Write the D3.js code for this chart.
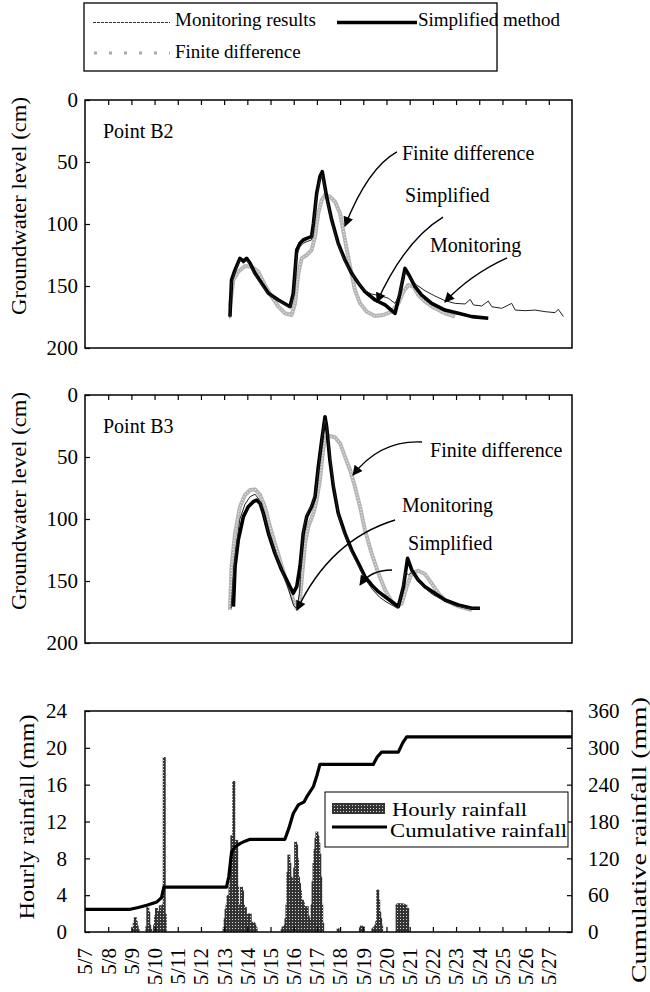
<!DOCTYPE html>
<html>
<head>
<meta charset="utf-8">
<script src="https://cdn.jsdelivr.net/npm/d3@7"></script>
<style>
body { margin: 0; background: #fff; }
text { font-family: "Liberation Serif", "Times New Roman", serif; fill: #000; }
</style>
</head>
<body>
<svg id="chart" width="650" height="992"></svg>
<script>
// x values are days after 5/7 00:00, levels in cm below surface
var dayLabels = ["5/7","5/8","5/9","5/10","5/11","5/12","5/13","5/14","5/15","5/16","5/17",
	"5/18","5/19","5/20","5/21","5/22","5/23","5/24","5/25","5/26","5/27"];
var levelTicks = [0, 50, 100, 150, 200];
var hourlyTicks = [0, 4, 8, 12, 16, 20, 24];
var cumTicks = [0, 60, 120, 180, 240, 300, 360];

var b2Monitoring = [[6.25,176],[6.32,147.8],[6.47,138.4],[6.68,129],[6.83,131.7],[6.97,129],[7.12,133],
	[7.33,141.1],[7.62,149.2],[7.91,156.5],[8.34,161.8],[8.84,167.5],[8.98,158.6],[9.13,125],[9.27,118.3],
	[9.41,115.6],[9.56,114.2],[9.77,112.9],[9.85,102.2],[9.99,78],[10.13,64.5],[10.23,60.5],[10.32,68.5],
	[10.42,79.3],[10.64,98.1],[10.92,116.9],[11.21,130.4],[11.5,139.8],[11.79,147.8],[12.07,153.8],
	[12.36,156.5],[12.79,158.1],[13.08,159.9],[13.37,164],[13.51,158.6],[13.8,138.4],[14.01,143.8],
	[14.3,149.2],[14.66,153.8],[15.09,158.1],[15.52,161.8],[15.96,164],[16.39,164.5],[16.61,160.8],
	[16.75,165.3],[17.11,166.1],[17.39,162.1],[17.54,166.7],[17.97,168],[18.4,164],[18.55,169.4],
	[18.98,169.9],[19.41,169.4],[19.84,170.7],[20.27,171.5],[20.41,168.8],[20.63,174.7]];
var b2Simplified = [[6.25,174.7],[6.32,145],[6.47,137],[6.68,127.7],[6.83,130],[6.97,127.7],[7.12,131.7],
	[7.33,139.8],[7.62,147.8],[7.91,155.9],[8.34,161.3],[8.84,166.7],[8.98,155.9],[9.13,121],[9.27,115.6],
	[9.41,112.9],[9.56,111.6],[9.77,110.2],[9.85,99.5],[9.99,75.3],[10.13,61.8],[10.23,57.8],[10.32,67.2],
	[10.42,78],[10.64,96.8],[10.92,115.6],[11.21,129],[11.5,139.8],[11.79,147.8],[12.07,154.6],
	[12.51,161.3],[12.94,165.3],[13.37,172],[13.58,155.9],[13.8,135.8],[14.01,142.5],[14.23,150.5],
	[14.52,157.3],[14.95,164],[15.52,169.4],[16.1,172],[16.68,174.7],[17.39,176]];
var b2Finite = [[6.25,166.7],[6.4,145],[6.61,138.4],[6.9,133.9],[7.19,134.4],[7.47,138.4],[7.76,149.2],
	[8.05,158.6],[8.34,166.7],[8.62,172],[8.91,173.4],[9.06,164],[9.2,139.8],[9.34,127.7],[9.56,125],
	[9.77,121],[9.92,110.2],[10.06,91.4],[10.21,80.6],[10.35,76.6],[10.56,78],[10.78,82],[11,91.4],
	[11.21,112.9],[11.43,134.4],[11.64,153.2],[11.86,164],[12.15,170.7],[12.51,174.2],[12.86,173.4],
	[13.22,170.7],[13.51,164],[13.73,154.6],[13.94,149.2],[14.16,150.5],[14.37,157.3],[14.66,162.6],
	[15.09,168],[15.52,172],[15.96,174.7]];

var b3Monitoring = [[6.3,172],[6.38,150],[6.5,125],[6.68,100],[6.9,88],[7.12,82],[7.33,80],[7.5,84],
	[7.7,96],[7.9,110],[8.2,127],[8.5,142],[8.8,158],[9.0,170],[9.13,172],[9.25,160],[9.35,125],
	[9.45,105],[9.6,95],[9.8,88],[9.95,78],[10.1,55],[10.25,30],[10.35,20],[10.45,30],[10.6,55],
	[10.75,76],[10.95,98],[11.2,113],[11.5,127],[11.8,138],[12.1,149],[12.4,157],[12.7,163],[13.0,167],
	[13.3,170],[13.5,172],[13.65,160],[13.8,143],[13.95,145],[14.1,143],[14.3,147],[14.6,155],[15,161],
	[15.5,166],[16,170],[16.5,172],[17,172]];
var b3Simplified = [[6.4,170.7],[6.47,138.4],[6.61,116.9],[6.83,98.1],[7.04,90.1],[7.26,86],[7.4,84.7],
	[7.55,87.4],[7.69,95.4],[7.91,111.6],[8.19,127.7],[8.48,141.1],[8.77,151.9],[8.98,159.9],[9.13,154.6],
	[9.27,138.4],[9.41,111.6],[9.56,98.1],[9.77,90.1],[9.92,82],[10.06,57.8],[10.21,36.3],[10.35,17.5],
	[10.42,25.6],[10.56,52.4],[10.71,73.9],[10.92,95.4],[11.21,111.6],[11.5,125],[11.79,135.7],
	[12.07,146.5],[12.36,153.2],[12.65,158.6],[12.94,162.7],[13.23,166.7],[13.51,170.7],[13.73,154.6],
	[13.91,131.7],[14.09,141.1],[14.37,149.2],[14.66,154.6],[15.09,159.9],[15.52,165.3],[16.1,169.4],
	[16.68,172],[17.03,172]];
var b3Finite = [[6.25,173.4],[6.32,138.4],[6.47,111.6],[6.68,90.1],[6.9,80.6],[7.12,76.6],[7.33,76.1],
	[7.55,80.6],[7.76,90.1],[7.98,106.2],[8.19,119.6],[8.41,133.1],[8.62,146.5],[8.84,157.3],[8.98,165.3],
	[9.13,172],[9.27,165.3],[9.37,143.8],[9.49,119.6],[9.63,106.2],[9.85,95.4],[9.99,84.7],[10.13,68.5],
	[10.25,47],[10.35,34.9],[10.56,33.1],[10.78,34.1],[11,39],[11.21,49.7],[11.43,60.5],[11.64,73.9],
	[11.86,90.1],[12.07,108.9],[12.36,127.7],[12.65,143.8],[12.94,157.3],[13.23,166.7],[13.44,170.7],
	[13.66,168],[13.87,154.6],[14.09,143.8],[14.37,141.7],[14.66,144.4],[14.95,151.9],[15.24,159.9],
	[15.52,165.3],[15.96,169.4],[16.39,172],[16.68,173.4]];

// hourly rainfall: [hour after 5/7 00:00, mm]
var hourlyRain = [[50,0.4],[51,1.0],[52,1.6],[53,1.2],[54,0.7],[55,0.3],[64,0.6],[65,2.7],[66,2.2],
	[67,0.8],[68,0.4],[72,0.8],[73,1.8],[74,2.6],[75,2.3],[76,1.5],[77,2.0],[78,2.9],[79,2.4],[80,1.5],
	[81,3.0],[82,19.0],[83,2.0],
	[144,0.5],[145,1.5],[146,2.5],[147,3.0],[148,4.0],[149,3.5],[150,5.0],[151,8.0],[152,10.5],[153,9.0],
	[154,16.4],[155,9.8],[156,6.0],[157,10.0],[158,5.0],[159,2.0],[160,1.5],[161,3.0],[162,4.9],[163,4.5],
	[164,3.0],[165,2.0],[166,2.7],[167,1.0],[168,1.5],[169,2.0],[170,1.5],[171,2.0],[172,1.0],[173,0.8],
	[174,1.1],[175,1.0],[176,0.8],[177,0.5],
	[204,0.3],[205,0.6],[206,0.5],[207,0.8],[208,1.5],[209,3.0],[210,6.5],[211,8.4],[212,7.5],[213,5.0],
	[214,6.0],[215,4.0],[216,5.5],[217,7.0],[218,9.8],[219,9.5],[220,8.0],[221,6.0],[222,5.3],[223,4.5],
	[224,3.0],[225,3.5],[226,3.2],[227,2.5],[228,2.8],[229,2.0],[230,2.8],[231,1.8],[232,1.5],[233,1.3],
	[234,1.0],[235,3.0],[236,5.5],[237,7.5],[238,9.0],[239,10.2],[240,10.9],[241,10.5],[242,9.7],
	[243,8.5],[244,6.0],[245,3.0],[246,1.0],
	[262,0.4],[285,0.5],[286,0.7],[287,0.5],[288,0.6],
	[298,0.4],[299,0.5],[300,0.6],[301,0.8],[302,1.2],[303,4.6],[304,3.5],[305,2.2],[306,1.5],[307,0.8],
	[323,3.0],[324,3.1],[325,3.1],[326,3.0],[327,3.1],[328,3.0],[329,3.1],[330,3.0],[331,2.8],[332,3.0],
	[333,2.5],[334,2.6]];

// cumulative rainfall: [day, mm]
var cumRain = [[0,37],[1.95,37],[2.3,40],[2.7,44],[3.1,49],[3.3,56],[3.4,73],[6.1,73],[6.2,90],[6.32,130],
	[6.45,138],[6.68,144],[6.9,148],[7.12,151],[8.62,151],[8.8,170],[8.98,193],[9.2,207],[9.45,212],
	[9.56,220],[9.85,237],[10.0,255],[10.13,273],[12.43,273],[12.6,285],[12.79,293],[13.51,293],
	[13.7,308],[13.87,318],[21,318]];

var svg = d3.select("#chart");
var font = "'Liberation Serif', 'Times New Roman', serif";

var x = d3.scaleLinear().domain([0, 21]).range([85, 572]);
var yB2 = d3.scaleLinear().domain([0, 200]).range([100, 348]);
var yB3 = d3.scaleLinear().domain([0, 200]).range([395, 643]);
var yRain = d3.scaleLinear().domain([0, 24]).range([932, 711]);
var yCum = d3.scaleLinear().domain([0, 360]).range([932, 711]);

var defs = svg.append("defs");
var pat = defs.append("pattern").attr("id", "stipple")
	.attr("width", 3).attr("height", 3).attr("patternUnits", "userSpaceOnUse");
pat.append("rect").attr("width", 3).attr("height", 3).attr("fill", "#333");
pat.append("rect").attr("x", 1).attr("y", 1).attr("width", 1).attr("height", 1).attr("fill", "#ddd");

defs.append("marker").attr("id", "arrow")
	.attr("viewBox", "0 0 10 10").attr("refX", 9).attr("refY", 5)
	.attr("markerWidth", 13).attr("markerHeight", 10).attr("markerUnits", "userSpaceOnUse")
	.attr("orient", "auto")
	.append("path").attr("d", "M0,0 L10,5 L0,10 z").attr("fill", "#000");

function styleAxis(a, size) {
	a.attr("font-family", font).attr("font-size", size);
	a.select(".domain").remove();
	a.selectAll(".tick line").attr("stroke", "#000").attr("stroke-width", 1.2);
}

function drawFinite(g, line, data) {
	g.append("path").datum(data).attr("d", line)
		.attr("fill", "none").attr("stroke", "#b4b4b4").attr("stroke-width", 4)
		.attr("stroke-linejoin", "round");
	g.append("path").datum(data).attr("d", line)
		.attr("fill", "none").attr("stroke", "#eee").attr("stroke-width", 1.3)
		.attr("stroke-dasharray", "1 2");
}

function groundPanel(y, label, mon, simp, fin, notes) {
	var g = svg.append("g");
	var line = d3.line().x(function(d) { return x(d[0]); }).y(function(d) { return y(d[1]); });

	drawFinite(g, line, fin);
	g.append("path").datum(simp).attr("d", line)
		.attr("fill", "none").attr("stroke", "#000").attr("stroke-width", 3.6)
		.attr("stroke-linejoin", "round");
	g.append("path").datum(mon).attr("d", line)
		.attr("fill", "none").attr("stroke", "#222").attr("stroke-width", 1);

	// ticks on top edge, pointing in
	g.append("g").attr("transform", "translate(0," + y.range()[0] + ")")
		.call(d3.axisTop(x).tickValues(d3.range(1, 21)).tickSize(-5).tickFormat(""))
		.call(function(a) { styleAxis(a, 10); });

	g.append("g").attr("transform", "translate(85,0)")
		.call(d3.axisLeft(y).tickValues(levelTicks).tickSize(-5).tickPadding(7))
		.call(function(a) { styleAxis(a, 21); });

	g.append("rect").attr("x", 85).attr("y", y.range()[0])
		.attr("width", 572 - 85).attr("height", y.range()[1] - y.range()[0])
		.attr("fill", "none").attr("stroke", "#000").attr("stroke-width", 1.5);

	g.append("text").attr("x", 103).attr("y", y(0) + 38)
		.attr("font-size", 20).text(label);

	g.append("text")
		.attr("transform", "translate(26," + (y(0) + 106) + ") rotate(-90)")
		.attr("text-anchor", "middle").attr("font-size", 21)
		.attr("textLength", 218).attr("lengthAdjust", "spacingAndGlyphs")
		.text("Groundwater level (cm)");

	notes.forEach(function(n) {
		g.append("text").attr("x", x(n.text[0])).attr("y", y(n.text[1]))
			.attr("font-size", 20).text(n.label);
		var p = d3.path();
		p.moveTo(x(n.from[0]), y(n.from[1]));
		p.quadraticCurveTo(x(n.ctrl[0]), y(n.ctrl[1]), x(n.to[0]), y(n.to[1]));
		g.append("path").attr("d", p.toString()).attr("fill", "none")
			.attr("stroke", "#000").attr("stroke-width", 1.4).attr("marker-end", "url(#arrow)");
	});
}

groundPanel(yB2, "Point B2", b2Monitoring, b2Simplified, b2Finite, [
	{label: "Finite difference", text: [13.67, 48.4], from: [13.45, 41.9], ctrl: [12.2, 54.8], to: [11.21, 101.6]},
	{label: "Simplified", text: [13.8, 82.3], from: [15.44, 94.4], ctrl: [13.8, 112.9], to: [12.59, 162.9]},
	{label: "Monitoring", text: [14.88, 122.6], from: [18.2, 127.4], ctrl: [16.6, 141.1], to: [15.52, 162.9]}
]);
groundPanel(yB3, "Point B3", b3Monitoring, b3Simplified, b3Finite, [
	{label: "Finite difference", text: [14.88, 50], from: [14.53, 37.9], ctrl: [12.72, 36.3], to: [11.56, 64.5]},
	{label: "Monitoring", text: [13.67, 94.4], from: [13.37, 100.8], ctrl: [10.56, 116.9], to: [9.14, 173.4]},
	{label: "Simplified", text: [13.93, 125], from: [13.24, 141.1], ctrl: [12.29, 141.1], to: [11.86, 153.2]}
]);

// ---- top legend
var leg = svg.append("g");
leg.append("rect").attr("x", 84).attr("y", 3).attr("width", 413).attr("height", 68)
	.attr("fill", "#fff").attr("stroke", "#000").attr("stroke-width", 1.3);
leg.append("line").attr("x1", 93).attr("x2", 170).attr("y1", 22.5).attr("y2", 22.5)
	.attr("stroke", "#333").attr("stroke-width", 1.2).attr("stroke-dasharray", "3 1");
leg.append("text").attr("x", 175).attr("y", 26).attr("font-size", 19).text("Monitoring results");
leg.append("line").attr("x1", 337).attr("x2", 417).attr("y1", 22.5).attr("y2", 22.5)
	.attr("stroke", "#000").attr("stroke-width", 3.6);
leg.append("text").attr("x", 418).attr("y", 26).attr("font-size", 19).text("Simplified method");
leg.append("line").attr("x1", 94).attr("x2", 170).attr("y1", 53).attr("y2", 53)
	.attr("stroke", "#aaa").attr("stroke-width", 3).attr("stroke-dasharray", "3 12");
leg.append("text").attr("x", 175).attr("y", 58).attr("font-size", 19).text("Finite difference");

// ---- rainfall panel
var rg = svg.append("g");
var barW = x(1 / 24) - x(0) + 2;
rg.selectAll(".bar").data(hourlyRain).join("rect").attr("class", "bar")
	.attr("x", function(d) { return x(d[0] / 24) - barW / 2; })
	.attr("y", function(d) { return yRain(d[1]); })
	.attr("width", barW)
	.attr("height", function(d) { return yRain(0) - yRain(d[1]); })
	.attr("fill", "url(#stipple)");

var cumLine = d3.line().x(function(d) { return x(d[0]); }).y(function(d) { return yCum(d[1]); });
rg.append("path").datum(cumRain).attr("d", cumLine)
	.attr("fill", "none").attr("stroke", "#000").attr("stroke-width", 3.2)
	.attr("stroke-linejoin", "round");

rg.append("g").attr("transform", "translate(0,932)")
	.call(d3.axisBottom(x).tickValues(d3.range(1, 21)).tickSize(-5).tickFormat(""))
	.call(function(a) { styleAxis(a, 10); });
rg.append("g").attr("transform", "translate(85,0)")
	.call(d3.axisLeft(yRain).tickValues(hourlyTicks).tickSize(-5).tickPadding(18))
	.call(function(a) { styleAxis(a, 21); });
rg.append("g").attr("transform", "translate(572,0)")
	.call(d3.axisRight(yCum).tickValues(cumTicks).tickSize(-5).tickPadding(16))
	.call(function(a) { styleAxis(a, 21); });
rg.append("rect").attr("x", 85).attr("y", 711).attr("width", 487).attr("height", 221)
	.attr("fill", "none").attr("stroke", "#000").attr("stroke-width", 1.5);

rg.selectAll(".dlab").data(dayLabels).join("text").attr("class", "dlab")
	.attr("transform", function(d, i) { return "translate(" + x(i) + ",948) rotate(-90)"; })
	.attr("text-anchor", "end").attr("dy", "0.35em").attr("font-size", 21)
	.text(function(d) { return d; });

rg.append("text").attr("transform", "translate(34,817) rotate(-90)")
	.attr("text-anchor", "middle").attr("font-size", 21)
	.attr("textLength", 205).attr("lengthAdjust", "spacingAndGlyphs")
	.text("Hourly rainfall  (mm)");
rg.append("text").attr("transform", "translate(646,840) rotate(-90)")
	.attr("text-anchor", "middle").attr("font-size", 21)
	.attr("textLength", 286).attr("lengthAdjust", "spacingAndGlyphs")
	.text("Cumulative rainfall  (mm)");

var rl = rg.append("g");
rl.append("rect").attr("x", 325).attr("y", 792).attr("width", 243).attr("height", 55)
	.attr("fill", "#fff").attr("stroke", "#000").attr("stroke-width", 1);
rl.append("rect").attr("x", 332).attr("y", 803).attr("width", 53).attr("height", 11)
	.attr("fill", "url(#stipple)");
rl.append("text").attr("x", 392).attr("y", 816).attr("font-size", 18)
	.attr("textLength", 135).attr("lengthAdjust", "spacingAndGlyphs").text("Hourly rainfall");
rl.append("line").attr("x1", 332).attr("x2", 387).attr("y1", 827).attr("y2", 827)
	.attr("stroke", "#000").attr("stroke-width", 3.2);
rl.append("text").attr("x", 390).attr("y", 837).attr("font-size", 18)
	.attr("textLength", 177).attr("lengthAdjust", "spacingAndGlyphs").text("Cumulative rainfall");
</script>
</body>
</html>
